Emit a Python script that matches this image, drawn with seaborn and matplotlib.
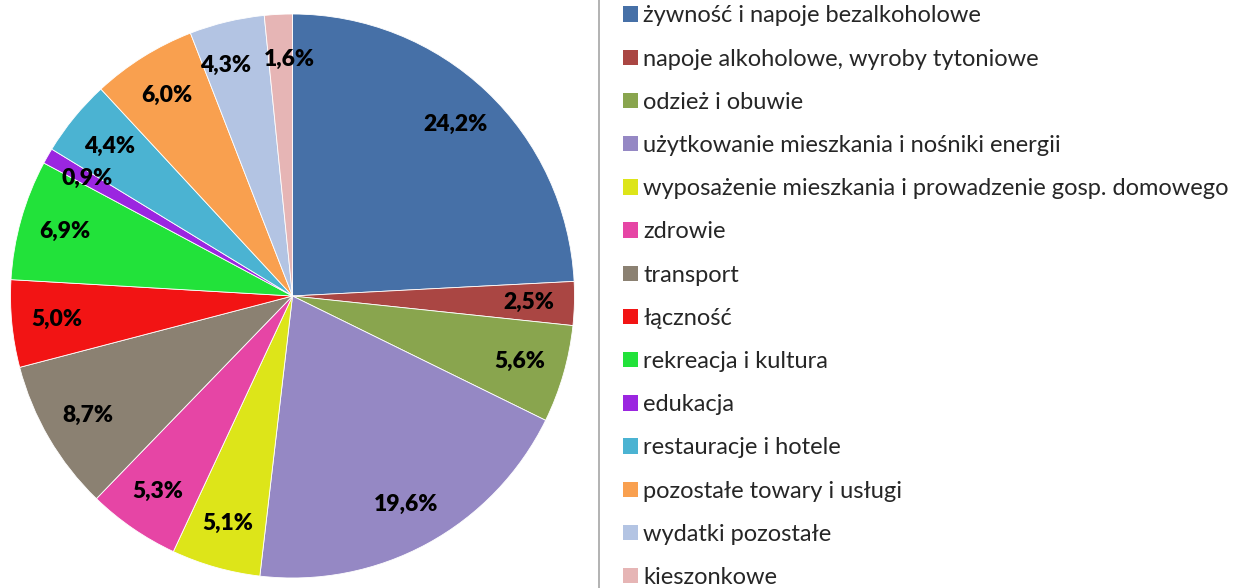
import matplotlib
matplotlib.use("Agg")
import matplotlib.pyplot as plt
import seaborn as sns
from matplotlib.patches import Patch
from matplotlib.lines import Line2D

sns.set_theme(style="white")
plt.rcParams['font.family'] = ['Lato', 'DejaVu Sans']

categories = [
    "żywność i napoje bezalkoholowe",
    "napoje alkoholowe, wyroby tytoniowe",
    "odzież i obuwie",
    "użytkowanie mieszkania i nośniki energii",
    "wyposażenie mieszkania i prowadzenie gosp. domowego",
    "zdrowie",
    "transport",
    "łączność",
    "rekreacja i kultura",
    "edukacja",
    "restauracje i hotele",
    "pozostałe towary i usługi",
    "wydatki pozostałe",
    "kieszonkowe",
]
values = [24.2, 2.5, 5.6, 19.6, 5.1, 5.3, 8.7, 5.0, 6.9, 0.9, 4.4, 6.0, 4.3, 1.6]
colors = ["#4670A7", "#AA4643", "#89A54E", "#9588C4", "#DDE519", "#E645A5",
          "#8B8172", "#F21414", "#22E23A", "#9B26E0", "#4BB3D2", "#F9A04F",
          "#B3C4E3", "#E6B5B5"]
pct_labels = [f"{v:.1f}%".replace(".", ",") for v in values]

W, H = 1234, 588
fig = plt.figure(figsize=(W / 100, H / 100), dpi=100)
cx, cy, r = 292.5, 296, 282
ax = fig.add_axes([(cx - r) / W, (H - cy - r) / H, 2 * r / W, 2 * r / H])
wedges, texts = ax.pie(values, labels=pct_labels, colors=colors, startangle=90,
                       counterclock=False, labeldistance=0.84, radius=1,
                       wedgeprops=dict(edgecolor="white", linewidth=0.6))
for t in texts:
    t.set_ha("center")
    t.set_va("center")
    t.set_fontsize(16.5)
    t.set_fontweight("heavy")
    t.set_color("black")
# small nudges so the two narrow top labels sit side by side as in the reference
x, y = texts[12].get_position()
texts[12].set_position((x - 0.04, y))
x, y = texts[13].get_position()
texts[13].set_position((x + 0.03, y))
ax.set_xlim(-1, 1)
ax.set_ylim(-1, 1)
ax.set_aspect("equal")
ax.axis("off")

handles = [Patch(facecolor=c, edgecolor="none") for c in colors]
leg = fig.legend(handles, categories, loc="upper left",
                 bbox_to_anchor=(614 / W, 1 + 4 / H), frameon=False,
                 fontsize=17, handlelength=0.62, handleheight=0.62,
                 handletextpad=0.22, labelspacing=0.94, borderaxespad=0)

fig.add_artist(Line2D([599 / W, 599 / W], [0, 1], color="#A6A6A6", linewidth=1.2,
                      transform=fig.transFigure))

fig.savefig("out.png", dpi=100)
